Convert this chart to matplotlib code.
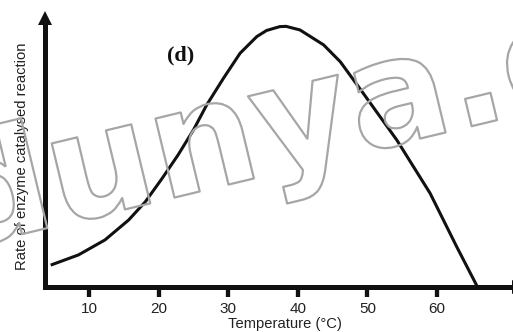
import matplotlib
matplotlib.use('Agg')
import matplotlib.pyplot as plt
import matplotlib.patheffects as pe

# values
temperature = [4.5, 8.5, 12.3, 15.7, 18.1, 20.5, 22.8, 25.0, 26.9, 29.3, 31.7,
               34.1, 35.5, 37.4, 38.3, 40.3, 43.7, 46.1, 49.4, 54.2, 59.0,
               62.8, 65.8]
rate = [7.9, 11.6, 17.0, 24.2, 30.8, 39.2, 47.7, 56.7, 65.7, 75.3, 84.4,
        90.4, 92.6, 94.0, 94.1, 92.8, 87.4, 81.3, 69.9, 53.1, 33.8,
        14.6, 0.0]
xticks = [10, 20, 30, 40, 50, 60]

ink = '#111111'
plt.rcParams['font.family'] = ['Liberation Sans', 'DejaVu Sans']

W, H = 513, 332
fig = plt.figure(figsize=(W / 100, H / 100), dpi=100)
ax = fig.add_axes([45 / W, 45 / H, 468 / W, 277 / H])

ax.plot(temperature, rate, color=ink, lw=2.2, solid_capstyle='butt',
        solid_joinstyle='round', zorder=3)

ax.set_xlim(3.68, 70.9)
ax.set_ylim(0, 100)

for s in ['top', 'right']:
    ax.spines[s].set_visible(False)
for s in ['left', 'bottom']:
    ax.spines[s].set_linewidth(3.6)
    ax.spines[s].set_color(ink)
ax.spines['left'].set_bounds(0, 95)

# arrow heads
ax.plot([0], [1 - 7.5 / 277], marker='^', markersize=10.5, color=ink, mew=0,
        transform=ax.transAxes, clip_on=False)
ax.plot([(519 - 45) / 468], [0], marker='>', markersize=10.5, color=ink, mew=0,
        transform=ax.transAxes, clip_on=False)

ax.set_xticks(xticks)
ax.set_yticks([])
ax.tick_params(axis='x', direction='out', length=7, width=3.1, color=ink,
               pad=3.6, labelsize=11, labelcolor='#222222')

fig.text(285 / W, 4 / H, 'Temperature (\u00b0C)', ha='center', va='baseline',
         fontsize=10.6, color='#222222')
fig.text(22 / W, 1 - 156.5 / H, 'Rate of enzyme catalysed reaction', rotation=90,
         ha='center', va='center', fontsize=10.6, color='#222222')
fig.text(181 / W, 1 - 55 / H, '(d)', ha='center', va='center',
         family='Liberation Serif', weight='bold', fontsize=16, color=ink)

# outlined watermark
fig.text(-44 / W, 1 - 250 / H, 'dunya.com', rotation=13.5, rotation_mode='anchor',
         ha='left', va='baseline', fontsize=107, weight='bold',
         family='DejaVu Sans', color='none',
         path_effects=[pe.Stroke(linewidth=1.6, foreground='#a6a6a6')], zorder=5)

fig.savefig('out.png', dpi=100)
